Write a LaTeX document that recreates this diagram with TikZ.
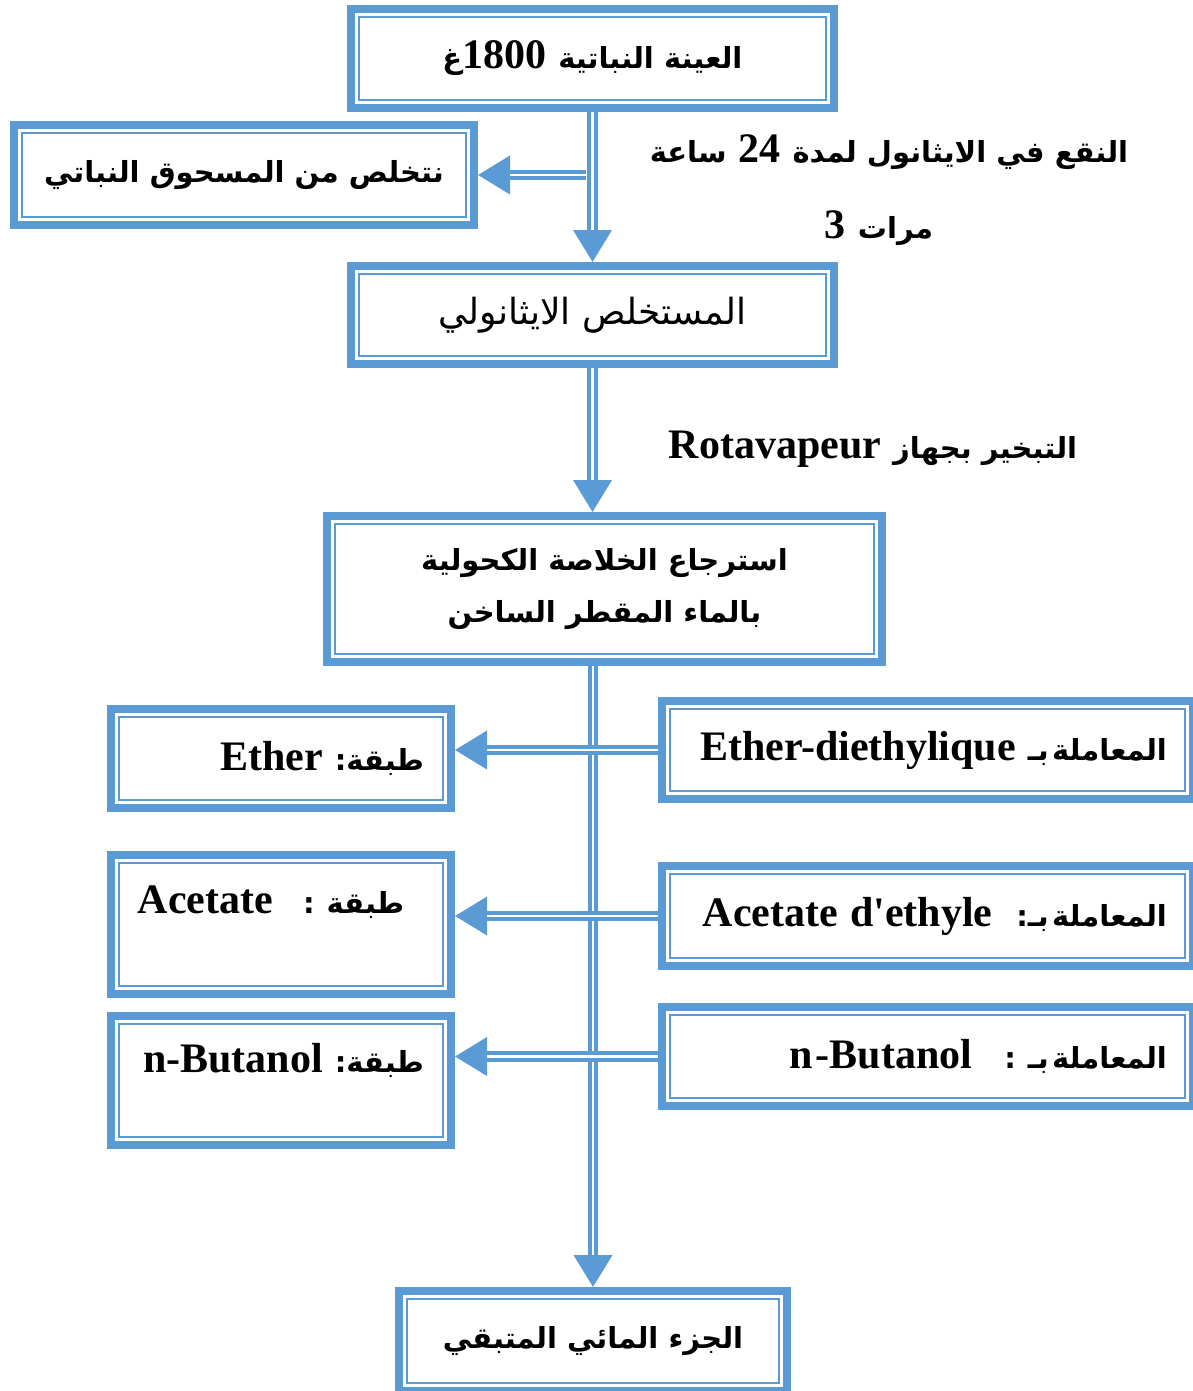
\documentclass[tikz,border=0pt]{standalone}
\usepackage{fontspec}
\newfontfamily\latinfont{Liberation Serif}
\newfontfamily\arabicfont[Script=Arabic]{DejaVu Sans}
\TeXXeTstate=1
\usetikzlibrary{arrows.meta,positioning}
\definecolor{boxblue}{HTML}{5B9BD5}
\newcommand{\arfont}{\arabicfont\bfseries\fontsize{29pt}{36pt}\selectfont}
\newcommand{\lafont}{\latinfont\bfseries\fontsize{42pt}{48pt}\selectfont}
\newcommand{\gap}{\hspace{12pt}}

\begin{document}
\begin{tikzpicture}[
        x=1pt, y=-1pt,
        box/.style={
            draw=boxblue,
            line width=8pt,
            fill=white,
            inner sep=0pt,
            minimum height=98pt,
            path picture={
                \draw[boxblue, line width=2pt]
                    ([shift={(8pt,-8pt)}]path picture bounding box.north west) rectangle
                    ([shift={(-8pt,8pt)}]path picture bounding box.south east);
            },
        },
        sidebox/.style={
            minimum width=531pt,
            text width=479pt,
            align=right,
        },
        layerbox/.style={
            minimum width=340pt,
            text width=286pt,
            align=right,
        },
        arr/.style={
            draw=boxblue,
            line width=4pt,
            double=white,
            double distance=2.5pt,
            -{Triangle[length=32pt,width=38pt]},
        },
        note/.style={
            inner sep=0pt,
        },
    ]
        \useasboundingbox (0,0) rectangle (1193,1391);

        % main column
        \node [box, minimum width=483pt, minimum height=99pt] (sample) at (592.5,58.5)
            {\beginR{\arfont العينة النباتية}\gap\beginL{\lafont 1800}\endL{\arfont غ}\endR};
        \node [box, minimum width=483pt, below=150pt of sample] (extract)
            {\beginR{\arabicfont\fontsize{36pt}{40pt}\selectfont المستخلص الايثانولي}\endR};
        \node [box, minimum width=555pt, minimum height=146pt, align=center,
               font=\arfont\fontsize{29pt}{52pt}\selectfont] (recovery) at (604.5,589)
            {\beginR استرجاع الخلاصة الكحولية\endR\\\beginR بالماء المقطر الساخن\endR};
        \node [box, minimum width=388pt, minimum height=100pt] (aqueous) at (593,1341)
            {\beginR{\arfont الجزء المائي المتبقي}\endR};
        \node [box, minimum width=460pt, minimum height=100pt] (residue) at (244,175)
            {\beginR{\arfont نتخلص من المسحوق النباتي}\endR};

        % solvents
        \node [box, sidebox] (ether) at (927.5,750)
            {\beginR{\arfont المعاملة بـ}\gap\beginL{\lafont Ether-diethylique}\endL\endR};
        \node [box, sidebox, minimum height=100pt] (acetate) at (927.5,916)
            {\beginR{\arfont المعاملة بـ:}\hspace{24pt}\beginL{\lafont Acetate\hspace{12pt}d'ethyle}\endL\endR};
        \node [box, sidebox, minimum height=99pt] (butanol) at (927.5,1056.5)
            {\beginR{\arfont المعاملة بـ}\gap{\arfont :}\hspace{32pt}\beginL{\lafont n -Butanol}\endL\endR};

        % layers
        \node [box, layerbox, minimum height=99pt] (etherlayer) at (281,758.5)
            {\beginR{\arfont طبقة:}\gap\beginL{\lafont Ether}\endL\endR};
        \node [box, minimum width=340pt, text height=58pt, text depth=81pt] (acetatelayer) at (281,924.5)
            {\beginR\hspace{20pt}{\arfont طبقة}\gap{\arfont :}\hspace{30pt}\beginL{\lafont Acetate}\endL\endR};
        \node [box, layerbox, text height=56pt, text depth=73pt] (butanollayer) at (281,1080.5)
            {\beginR{\arfont طبقة:}\gap\beginL{\lafont n-Butanol}\endL\endR};

        % step notes
        \node [note] (soak) at (889,152)
            {\beginR{\arfont النقع في الايثانول لمدة}\gap\beginL{\lafont 24}\endL\gap{\arfont ساعة}\endR};
        \node [note] (times) at (879,228)
            {\beginR{\arfont مرات}\gap\beginL{\lafont 3}\endL\endR};
        \node [note] (evap) at (873,449)
            {\beginR{\arfont التبخير بجهاز}\gap\beginL{\lafont Rotavapeur}\endL\endR};

        % connectors
        \draw [arr] (sample) -- (extract);
        \draw [arr, shorten <=7pt] (sample.south |- residue.east) -- (residue.east);
        \draw [arr] (extract) -- (extract.south |- recovery.north);
        \draw [arr] (aqueous.north |- recovery.south) -- (aqueous);
        \foreach \solvent/\layer in {ether/etherlayer, acetate/acetatelayer, butanol/butanollayer}
            \draw [arr] (\solvent.west) -- (\solvent.west -| \layer.east);
    \end{tikzpicture}
\end{document}
